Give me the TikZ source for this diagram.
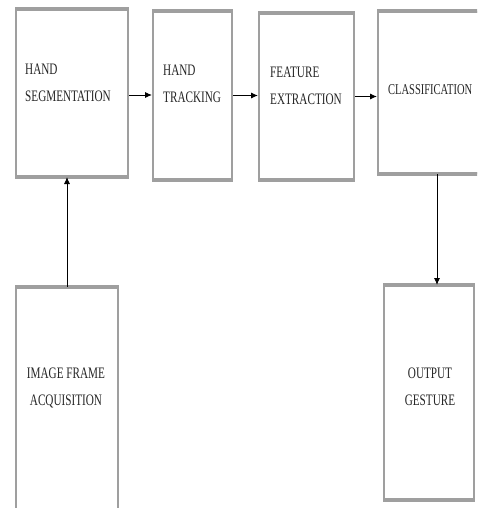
\documentclass[tikz,border=0pt]{standalone}
\usepackage{fontspec}
\setmainfont[FakeStretch=0.7]{Liberation Serif}
\usetikzlibrary{arrows.meta}
\tikzset{
  blk/.style={draw=gray!75, line width=2pt, inner sep=0pt, fill=white},
  lbl/.style={inner sep=0pt, font=\fontsize{16}{27}\selectfont, text=black!85},
  arr/.style={draw=black, line width=0.9pt, -{Latex[length=7pt,width=6pt]}},
  edge/.style={draw=gray!75, line width=4pt}
}
\begin{document}
\begin{tikzpicture}[x=1pt,y=-1pt]
\useasboundingbox (0,0) rectangle (477,508);
\clip (0,0) rectangle (477,508);
% boxes
\node[blk, minimum width=112pt, minimum height=166pt] (seg) at (72,93) {};
\node[blk, minimum width=79pt, minimum height=167pt] (trk) at (192.5,95.5) {};
\node[blk, minimum width=95pt, minimum height=165pt] (fea) at (306.5,96.5) {};
\node[blk, minimum width=104pt, minimum height=161pt] (cls) at (430,92.5) {};
\node[blk, minimum width=102pt, minimum height=226pt] (acq) at (67,401) {};
\node[blk, minimum width=90pt, minimum height=213pt] (out) at (429,392.5) {};
% thicker top and bottom edges
\foreach \n in {seg,trk,fea,cls,acq,out}{
  \draw[edge] (\n.north west) -- (\n.north east);
  \draw[edge] (\n.south west) -- (\n.south east);
}
% labels
\node[lbl, anchor=west, align=left] (tseg) at (25,82.5) {HAND\\SEGMENTATION};
\node[lbl, anchor=west, align=left] (ttrk) at (163,84) {HAND\\TRACKING};
\node[lbl, anchor=west, align=left] (tfea) at (270,85.5) {FEATURE\\EXTRACTION};
\node[lbl, anchor=west, font=\fontsize{15}{27}\selectfont] (tcls) at (388,90) {CLASSIFICATION};
\node[lbl, align=center] (tacq) at (66,387.5) {IMAGE FRAME\\ACQUISITION};
\node[lbl, align=center] (tout) at (430,386.5) {OUTPUT\\GESTURE};
% connectors
\draw[arr] ([yshift=-2pt]seg.east) -- ([yshift=-2pt]seg.east -| trk.west);
\draw[arr] (trk.east) -- (trk.east -| fea.west);
\draw[arr] (fea.east) -- (fea.east -| cls.west);
\draw[arr] ([xshift=8pt]out.north |- cls.south) -- ([xshift=8pt]out.north);
\draw[arr] (acq.north) -- (acq.north |- seg.south);
\end{tikzpicture}
\end{document}
